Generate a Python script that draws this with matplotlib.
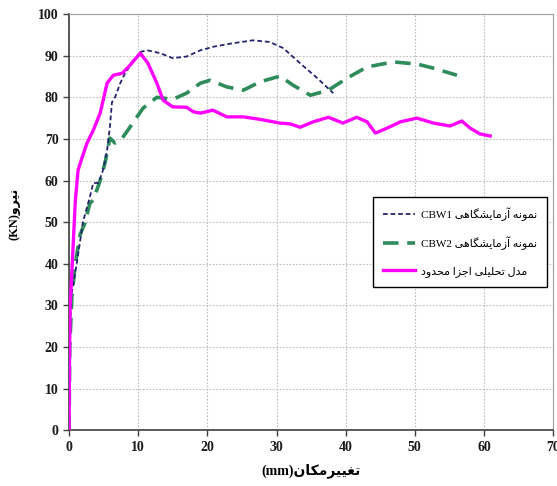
import numpy as np
import matplotlib
matplotlib.use("Agg")
import matplotlib.pyplot as plt

# Persian letters -> presentation forms (iso, final, initial, medial)
DUAL = {
    'ن': '\ufee5\ufee6\ufee7\ufee8', 'ی': '\ufbfc\ufbfd\ufbfe\ufbff',
    'م': '\ufee1\ufee2\ufee3\ufee4', 'ه': '\ufee9\ufeea\ufeeb\ufeec',
    'ش': '\ufeb5\ufeb6\ufeb7\ufeb8', 'گ': '\ufb92\ufb93\ufb94\ufb95',
    'ت': '\ufe95\ufe96\ufe97\ufe98', 'غ': '\ufecd\ufece\ufecf\ufed0',
    'ک': '\ufb8e\ufb8f\ufb90\ufb91', 'ل': '\ufedd\ufede\ufedf\ufee0',
    'ح': '\ufea1\ufea2\ufea3\ufea4', 'ج': '\ufe9d\ufe9e\ufe9f\ufea0',
}
RIGHT = {
    'ر': '\ufead\ufeae', 'و': '\ufeed\ufeee', 'آ': '\ufe81\ufe82',
    'ز': '\ufeaf\ufeb0', 'ا': '\ufe8d\ufe8e', 'د': '\ufea9\ufeaa',
}


def rtl(s):
    out = []
    for i, c in enumerate(s):
        prev = s[i - 1] if i > 0 else ''
        nxt = s[i + 1] if i + 1 < len(s) else ''
        p = prev in DUAL
        if c in DUAL:
            n = nxt in DUAL or nxt in RIGHT
            out.append(DUAL[c][(3 if n else 1) if p else (2 if n else 0)])
        elif c in RIGHT:
            out.append(RIGHT[c][1 if p else 0])
        else:
            out.append(c)
    return ''.join(reversed(out))


# CBW1 test
cbw1_x = [0, 0.1, 0.3, 1.2, 2.0, 3.0, 3.5, 4.2, 4.8, 5.5, 5.9, 6.2, 6.65, 7.4, 8.1,
          9.1, 10.3, 11.3, 13.2, 15.0, 17.0, 19.0, 21.0, 23.7, 26.6, 29.0, 31.0,
          33.4, 35.9, 38.2]
cbw1_y = [0, 20, 32, 41, 50, 56, 59.4, 59.4, 61.8, 67.3, 72.8, 78.8, 80, 83.4,
          85.8, 88.2, 90.9, 91.3, 90.6, 89.4, 89.8, 91.3, 92.2, 93.0, 93.7, 93.3,
          91.8, 88.2, 84.6, 81.0]

# CBW2 test
cbw2_x = [0, 0.1, 0.4, 0.9, 1.6, 2.3, 3.0, 3.5, 4.5, 5.2, 5.9, 6.65, 7.7, 8.8,
          10.7, 12.7, 15.0, 17.0, 19.0, 20.4, 22.8, 25.2, 27.6, 30.5, 32.4, 34.9,
          37.5, 40.2, 43.1, 46.9, 50.3, 52.7, 56.1]
cbw2_y = [0, 20, 32, 40, 47, 49.8, 54.5, 55.3, 60, 64.2, 70.2, 69, 70.2, 72.8,
          77.4, 80, 79.5, 81, 83.4, 84.1, 82.5, 81.7, 83.7, 85.1, 82.9, 80.5, 81.7,
          84.6, 87.3, 88.5, 88, 87, 85.3]

# finite element model
fem_x = [0, 0.05, 0.15, 0.55, 0.9, 1.3, 1.9, 2.6, 3.5, 4.5, 5.5, 6.4, 7.7, 8.8,
         10.3, 11.4, 12.7, 13.6, 15.0, 17.0, 18.0, 19.0, 20.8, 22.8, 25.2, 27.6,
         30.5, 32.0, 33.4, 35.3, 37.5, 39.6, 41.6, 43.1, 44.3, 46.0, 47.9, 50.3,
         52.7, 55.1, 56.8, 58.0, 59.4, 60.9]
fem_y = [0, 15, 29.6, 43, 55, 62.5, 65.6, 69, 72.1, 76.2, 83.4, 85.3, 85.8, 87.7,
         90.6, 88.2, 83.4, 79.3, 77.7, 77.6, 76.5, 76.2, 76.9, 75.3, 75.3, 74.7,
         73.8, 73.6, 72.8, 74.1, 75.2, 73.8, 75.2, 74.1, 71.4, 72.6, 74.1, 75.0,
         73.8, 73.1, 74.3, 72.6, 71.2, 70.7]

labels = ["CBW1 " + rtl("نمونه آزمایشگاهی"),
          "CBW2 " + rtl("نمونه آزمایشگاهی"),
          rtl("مدل تحلیلی اجزا محدود")]
xlabel = "(mm)" + rtl("تغییرمکان")
ylabel = "(KN)" + rtl("نیرو")

fams = ['Liberation Serif', 'DejaVu Sans']

fig = plt.figure(figsize=(5.57, 4.86), dpi=100)
ax = fig.add_axes([0.124, 0.115, 0.869, 0.856])

ax.plot(cbw1_x, cbw1_y, color='#24246e', lw=1.3, dashes=(2.6, 1.6), label=labels[0], zorder=4)
ax.plot(cbw2_x, cbw2_y, color='#2e8b5a', lw=2.6, dashes=(4.3, 2.4), label=labels[1], zorder=3)
ax.plot(fem_x, fem_y, color='#ff00ff', lw=2.4, label=labels[2], zorder=5)

ax.set_xlim(0, 70)
ax.set_ylim(0, 100)
ax.set_xticks(np.arange(0, 71, 10))
ax.set_yticks(np.arange(0, 101, 10))
ax.grid(True, color='#bdbdbd', lw=0.8, linestyle=(0, (1.5, 1.5)))
ax.set_axisbelow(True)
for s in ['top', 'right']:
    ax.spines[s].set_color('#a0a0a0')
for s in ['left', 'bottom']:
    ax.spines[s].set_color('#404040')
    ax.spines[s].set_linewidth(1.2)
ax.tick_params(direction='out', length=4, width=1, colors='#404040',
               labelcolor='#1a1a1a', top=False, right=False)
for t in ax.get_xticklabels() + ax.get_yticklabels():
    t.set_family('Liberation Serif')
    t.set_fontweight('bold')
    t.set_fontsize(10)

ax.set_xlabel(xlabel, family=fams, fontweight='bold', fontsize=10, labelpad=7)
ax.set_ylabel(ylabel, family=fams, fontweight='bold', fontsize=9, labelpad=14)
ax.yaxis.set_label_coords(-0.1, 0.52)

leg = ax.legend(loc='upper left', bbox_to_anchor=(0.628, 0.56), prop={'family': fams, 'size': 8},
                fancybox=False, framealpha=1, edgecolor='black', handlelength=2.9,
                handletextpad=0.5, labelspacing=1.4, borderpad=0.9, borderaxespad=0)
leg.get_frame().set_linewidth(1.0)

fig.savefig("out.png", dpi=100)
